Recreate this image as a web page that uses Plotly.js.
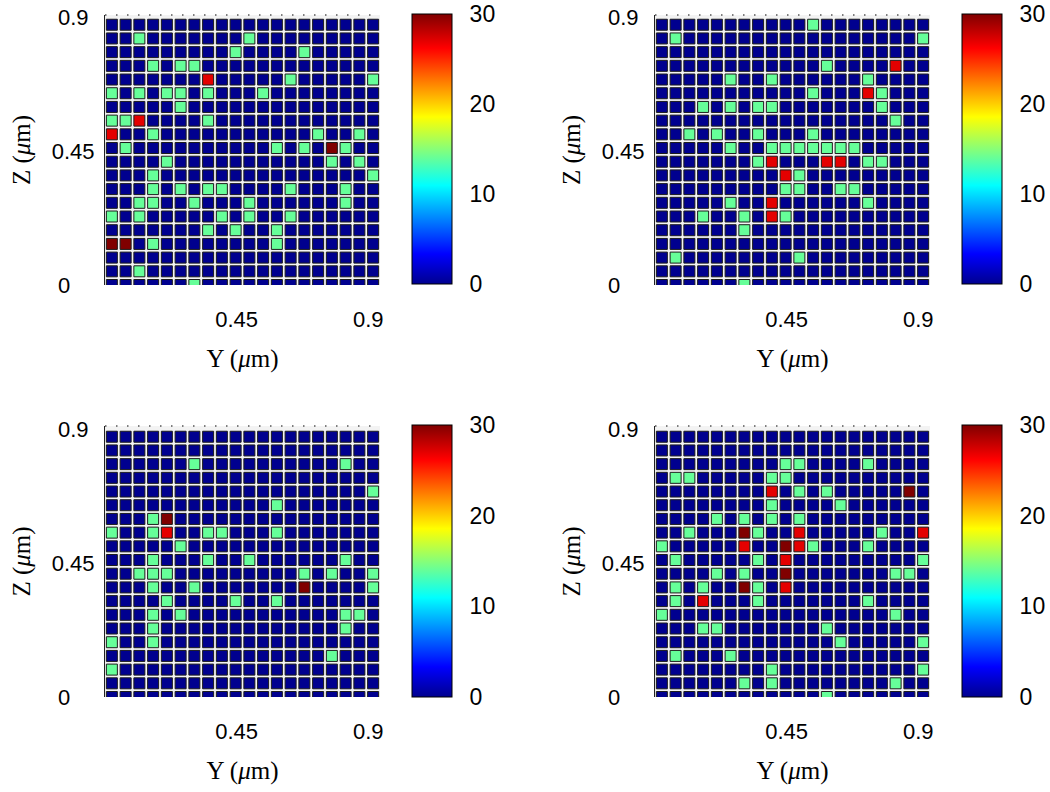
<!DOCTYPE html>
<html>
<head>
<meta charset="utf-8">
<script src="https://cdn.plot.ly/plotly-3.0.1.min.js"></script>
<style>html,body{margin:0;padding:0;background:#fff;}#plot{width:1050px;height:792px;}</style>
</head>
<body>
<div id="plot"></div>
<script>
// Grid size (cells per side)
const nRows = 20;
const nCols = 20;

// Non-zero cells of each panel: [row from top, column from left, value]
const panel1Cells = [
  [1,2,14],[1,10,14],
  [2,9,14],[2,14,14],
  [3,3,14],[3,5,14],[3,6,14],
  [4,7,27],[4,13,14],[4,19,14],
  [5,0,14],[5,2,14],[5,4,14],[5,5,14],[5,7,14],[5,11,14],
  [6,5,14],
  [7,0,14],[7,1,14],[7,2,27],[7,7,14],
  [8,0,27],[8,3,14],[8,15,14],[8,18,14],
  [9,1,14],[9,12,14],[9,14,14],[9,16,30],[9,17,14],
  [10,4,14],[10,16,14],[10,18,14],
  [11,3,14],[11,19,14],
  [12,3,14],[12,5,14],[12,7,14],[12,8,14],[12,13,14],[12,17,14],
  [13,2,14],[13,3,14],[13,6,14],[13,10,14],[13,17,14],
  [14,0,14],[14,2,14],[14,8,14],[14,10,14],[14,13,14],
  [15,7,14],[15,9,14],[15,12,14],
  [16,0,30],[16,1,30],[16,3,14],[16,12,14],
  [18,2,14],
  [19,6,14]
];
const panel2Cells = [
  [0,11,14],
  [1,1,14],[1,19,14],
  [3,12,14],[3,17,27],
  [4,5,14],[4,8,14],[4,15,14],
  [5,11,14],[5,15,27],[5,16,14],
  [6,3,14],[6,5,14],[6,7,14],[6,8,14],[6,16,14],
  [7,17,14],
  [8,2,14],[8,4,14],[8,7,14],[8,11,14],
  [9,5,14],[9,8,14],[9,9,14],[9,10,14],[9,11,14],[9,12,14],[9,13,14],[9,14,14],
  [10,7,14],[10,8,27],[10,12,27],[10,13,27],[10,15,14],[10,16,14],
  [11,9,27],[11,10,14],
  [12,9,14],[12,10,14],[12,13,14],[12,14,14],
  [13,5,14],[13,8,27],[13,15,14],
  [14,3,14],[14,6,14],[14,8,27],[14,9,14],
  [15,6,14],
  [17,1,14],[17,10,14],
  [19,6,14]
];
const panel3Cells = [
  [2,6,14],[2,17,14],
  [4,19,14],
  [5,12,14],
  [6,3,14],[6,4,30],
  [7,0,14],[7,3,14],[7,4,27],[7,7,14],[7,8,14],[7,12,14],
  [8,5,14],
  [9,3,14],[9,7,14],[9,10,14],[9,17,14],
  [10,2,14],[10,3,14],[10,4,14],[10,14,14],[10,16,14],[10,19,14],
  [11,3,14],[11,6,14],[11,14,30],[11,19,14],
  [12,4,14],[12,9,14],[12,12,14],
  [13,3,14],[13,5,14],[13,17,14],[13,18,14],
  [14,3,14],[14,17,14],
  [15,0,14],[15,3,14],
  [16,16,14],
  [17,0,14]
];
const panel4Cells = [
  [2,9,14],[2,10,14],[2,15,14],
  [3,1,14],[3,2,14],[3,8,14],[3,9,14],
  [4,8,27],[4,10,14],[4,12,14],[4,18,30],
  [5,8,14],[5,13,14],
  [6,4,14],[6,6,14],[6,8,14],[6,10,14],
  [7,2,14],[7,6,30],[7,7,14],[7,10,27],[7,16,14],[7,19,27],
  [8,0,14],[8,6,27],[8,9,30],[8,10,27],[8,11,14],[8,15,14],
  [9,1,14],[9,7,14],[9,9,27],[9,19,14],
  [10,4,14],[10,6,14],[10,9,30],[10,17,14],[10,18,14],
  [11,1,14],[11,3,14],[11,6,30],[11,7,14],[11,9,27],
  [12,1,14],[12,3,27],[12,7,14],[12,15,14],
  [13,0,14],[13,17,14],
  [14,3,14],[14,4,14],[14,12,14],
  [15,13,14],[15,19,14],
  [16,1,14],[16,5,14],
  [17,8,14],[17,19,14],
  [18,6,14],[18,8,14],[18,17,14],
  [19,12,14]
];

// Axis ticks and labels
const yTickVals = [0.45, 0.9];
const yTickText = ['0.45', '0.9'];
const zTickVals = [0, 0.45, 0.9];
const zTickText = ['0\u00a0\u00a0\u00a0\u00a0', '0.45', '0.9\u00a0'];
const cbTickVals = [0, 10, 20, 30];
const cbTickText = ['0', '10', '20', '30'];
const xTitle = 'Y (<i>μ</i>m)';
const zTitle = 'Z (<i>μ</i>m)';

// ---- geometry / style (not data) ----
const DX = 0.047, DZ = 0.046;
const W = 1050, H = 792;
const jet = [[0,'#00008F'],[0.111,'#0000FF'],[0.365,'#00FFFF'],[0.619,'#FFFF00'],[0.873,'#FF0000'],[1,'#800000']];
const panels = [
  {cells: panel1Cells, x0:105, x1:380, yTop:15,  yBot:285, cbX:412, cbTop:14,  cbLen:270},
  {cells: panel2Cells, x0:655, x1:930, yTop:15,  yBot:285, cbX:962, cbTop:14,  cbLen:270},
  {cells: panel3Cells, x0:105, x1:380, yTop:426, yBot:697, cbX:412, cbTop:425, cbLen:272},
  {cells: panel4Cells, x0:655, x1:930, yTop:426, yBot:697, cbX:962, cbTop:425, cbLen:272}
];
const pxPerZ = 268 / 0.9;

const traces = [];
const layout = {
  width: W, height: H,
  margin: {l:0, r:0, t:0, b:0},
  paper_bgcolor: '#ffffff',
  plot_bgcolor: '#f3f3f3',
  showlegend: false,
  shapes: []
};

panels.forEach((p, i) => {
  const grid = [];
  for (let r = 0; r < nRows; r++) { grid.push(new Array(nCols).fill(0)); }
  p.cells.forEach(([r, c, v]) => { grid[r][c] = v; });
  const xs = [], ys = [], vs = [];
  for (let r = 0; r < nRows; r++) {
    for (let c = 0; c < nCols; c++) {
      xs.push((c + 0.5) * DX);
      ys.push((nRows - 1 - r) * DZ);
      vs.push(grid[r][c]);
    }
  }
  const n = i === 0 ? '' : String(i + 1);
  traces.push({
    type: 'scatter', mode: 'markers',
    x: xs, y: ys,
    xaxis: 'x' + n, yaxis: 'y' + n,
    hoverinfo: 'skip',
    cliponaxis: true,
    marker: {
      symbol: 'square', size: 11,
      color: vs, cmin: 0, cmax: 30, colorscale: jet,
      line: {width: 1, color: '#1c1c1c'},
      showscale: true,
      colorbar: {
        x: p.cbX / W, xanchor: 'left', xpad: 0,
        y: 1 - p.cbTop / H, yanchor: 'top', ypad: 0,
        len: p.cbLen, lenmode: 'pixels',
        thickness: 40, thicknessmode: 'pixels',
        outlinewidth: 1, outlinecolor: '#000',
        tickmode: 'array', tickvals: cbTickVals, ticktext: cbTickText,
        ticks: 'outside', ticklen: 13, tickcolor: 'rgba(0,0,0,0)',
        ticklabeloverflow: 'allow',
        tickfont: {family: 'Liberation Sans, Arial, sans-serif', size: 23, color: '#000'}
      }
    }
  });
  const zTop = (p.yBot - p.yTop) / pxPerZ;
  layout['xaxis' + n] = {
    domain: [p.x0 / W, p.x1 / W],
    range: [0, nCols * DX],
    anchor: 'y' + n,
    showgrid: false, zeroline: false, showline: false, ticks: '',
    tickvals: yTickVals, ticktext: yTickText,
    ticklabelstandoff: 19,
    tickfont: {family: 'Liberation Sans, Arial, sans-serif', size: 22, color: '#000'},
    title: {text: xTitle, standoff: 18, font: {family: 'Liberation Serif, Times New Roman, serif', size: 25, color: '#000'}},
    fixedrange: true
  };
  layout['yaxis' + n] = {
    domain: [1 - p.yBot / H, 1 - p.yTop / H],
    range: [0, zTop],
    anchor: 'x' + n,
    showgrid: false, zeroline: false,
    showline: true, linecolor: '#222', linewidth: 1,
    ticks: '',
    tickvals: zTickVals, ticktext: zTickText,
    ticklabelstandoff: 5,
    tickfont: {family: 'Liberation Sans, Arial, sans-serif', size: 22, color: '#000'},
    title: {text: zTitle, standoff: 14, font: {family: 'Liberation Serif, Times New Roman, serif', size: 25, color: '#000'}},
    fixedrange: true
  };
  layout.shapes.push({
    type: 'line', xref: 'x' + n + ' domain', yref: 'y' + n + ' domain',
    x0: 0, x1: 1, y0: 1, y1: 1,
    line: {color: '#555', width: 1.5, dash: '1.5px,9.5px'}
  });
});

Plotly.newPlot('plot', traces, layout, {displayModeBar: false, staticPlot: true});
</script>
</body>
</html>
